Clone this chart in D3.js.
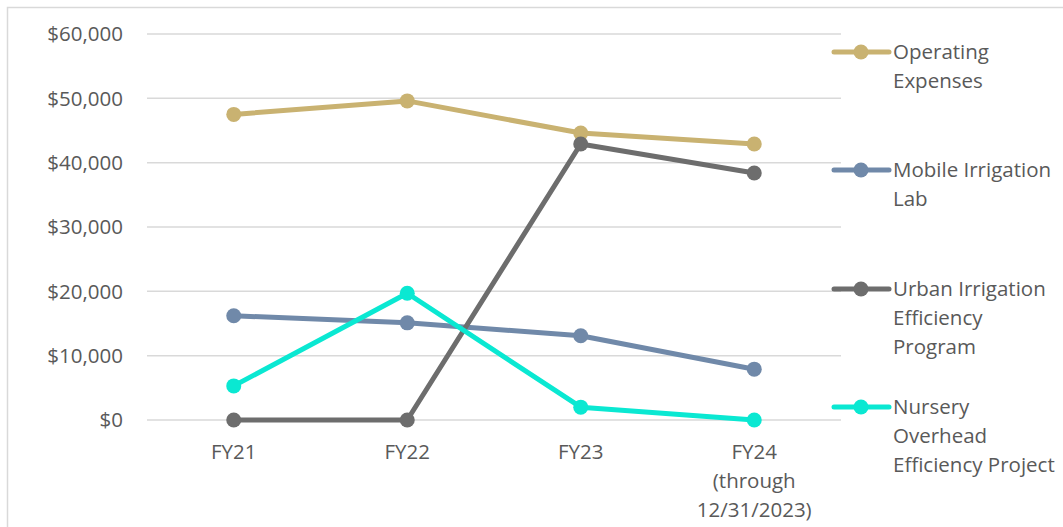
<!DOCTYPE html>
<html>
<head>
<meta charset="utf-8">
<script src="https://cdn.jsdelivr.net/npm/d3@7"></script>
<style>
  html, body { margin: 0; padding: 0; background: #fff; }
  svg text { font-family: "Open Sans", Lato, sans-serif; fill: #595959; }
</style>
</head>
<body>
<svg id="chart" width="1063" height="527"></svg>
<script>
// Fiscal years and their axis labels (multi-line)
const categories = ["FY21", "FY22", "FY23", "FY24"];
const categoryLabels = [["FY21"], ["FY22"], ["FY23"], ["FY24", "(through", "12/31/2023)"]];

// Spending per program, dollars
const operatingExpenses = [47500, 49600, 44600, 42900];
const mobileIrrigationLab = [16200, 15100, 13100, 7900];
const urbanIrrigation = [0, 0, 42900, 38400];
const nurseryOverhead = [5300, 19700, 2000, 0];

const yTicks = [0, 10000, 20000, 30000, 40000, 50000, 60000];

const seriesNames = [
  ["Operating", "Expenses"],
  ["Mobile Irrigation", "Lab"],
  ["Urban Irrigation", "Efficiency", "Program"],
  ["Nursery", "Overhead", "Efficiency Project"]
];
const seriesValues = [operatingExpenses, mobileIrrigationLab, urbanIrrigation, nurseryOverhead];
const seriesColors = ["#C9B271", "#7089A9", "#6D6D6D", "#0AE8D2"];

const fontSize = 20.5;
const svg = d3.select("#chart");

// outer frame
svg.append("rect")
  .attr("x", 7.5).attr("y", 7.5)
  .attr("width", 1100).attr("height", 600)
  .attr("fill", "none").attr("stroke", "#D9D9D9").attr("stroke-width", 1.5);

const plot = { left: 147, right: 841, top: 34, bottom: 420 };

const x = d3.scaleBand().domain(categories).range([plot.left, plot.right]);
const y = d3.scaleLinear().domain([0, 60000]).range([plot.bottom, plot.top]);

// gridlines
svg.append("g").selectAll("line").data(yTicks).join("line")
  .attr("x1", plot.left).attr("x2", plot.right)
  .attr("y1", d => y(d)).attr("y2", d => y(d))
  .attr("stroke", "#D9D9D9").attr("stroke-width", 1.5);

// y axis labels
const fmt = d3.format("$,");
svg.append("g").selectAll("text").data(yTicks).join("text")
  .attr("x", 123).attr("y", d => y(d))
  .attr("dy", "0.35em")
  .attr("text-anchor", "end")
  .attr("font-size", fontSize)
  .text(d => fmt(d));

// x axis labels
const xl = svg.append("g").selectAll("text").data(categories).join("text")
  .attr("x", d => x(d) + x.bandwidth() / 2)
  .attr("y", 452)
  .attr("text-anchor", "middle")
  .attr("font-size", fontSize);
xl.each(function(d, i) {
  d3.select(this).selectAll("tspan").data(categoryLabels[i]).join("tspan")
    .attr("x", x(d) + x.bandwidth() / 2)
    .attr("dy", (t, j) => j === 0 ? "0.35em" : 29)
    .text(t => t);
});

const cx = d => x(d) + x.bandwidth() / 2;
const line = d3.line().x((v, i) => cx(categories[i])).y(v => y(v));

// series lines and markers
seriesValues.forEach((vals, s) => {
  const g = svg.append("g");
  g.append("path")
    .datum(vals)
    .attr("d", line)
    .attr("fill", "none")
    .attr("stroke", seriesColors[s])
    .attr("stroke-width", 5)
    .attr("stroke-linejoin", "round");
  g.selectAll("circle").data(vals).join("circle")
    .attr("cx", (v, i) => cx(categories[i]))
    .attr("cy", v => y(v))
    .attr("r", 7.5)
    .attr("fill", seriesColors[s]);
});

// legend
const legendTop = [52, 170, 289, 407];
const legend = svg.append("g");
seriesNames.forEach((lines, s) => {
  const gy = legendTop[s];
  legend.append("line")
    .attr("x1", 834).attr("x2", 889)
    .attr("y1", gy).attr("y2", gy)
    .attr("stroke", seriesColors[s]).attr("stroke-width", 5)
    .attr("stroke-linecap", "round");
  legend.append("circle")
    .attr("cx", 861).attr("cy", gy).attr("r", 7.5)
    .attr("fill", seriesColors[s]);
  const t = legend.append("text")
    .attr("x", 893).attr("y", gy)
    .attr("font-size", fontSize);
  t.selectAll("tspan").data(lines).join("tspan")
    .attr("x", 893)
    .attr("dy", (d, j) => j === 0 ? "0.35em" : 29)
    .text(d => d);
});
</script>
</body>
</html>
